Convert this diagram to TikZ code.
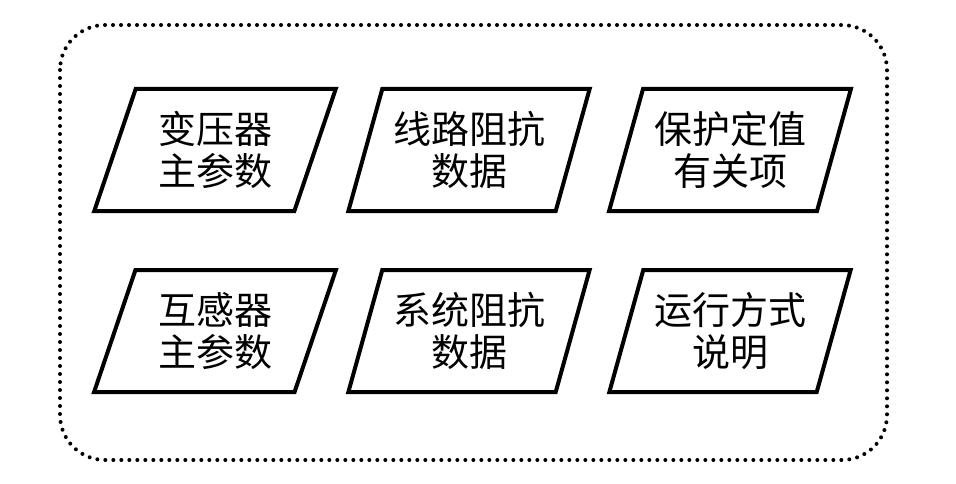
\documentclass[tikz,border=0pt]{standalone}
\usepackage{fontspec}
\setmainfont{Noto Sans CJK SC}
\usetikzlibrary{shapes.geometric}
\begin{document}
\begin{tikzpicture}[x=1pt,y=-1pt,
  databox/.style={trapezium, trapezium left angle=69, trapezium right angle=111,
    trapezium stretches=true, minimum width=242pt, minimum height=122pt,
    draw, line width=4pt, align=center, inner sep=0pt,
    font=\fontsize{38}{42}\selectfont}]
\useasboundingbox (0,0) rectangle (956,484);
\draw[line width=4pt, line cap=round, dash pattern=on 0pt off 8pt, rounded corners=45pt] (60,25) rectangle (887,460);
\node[databox] (bybq) at (215,150){变压器\\主参数};
\node[databox] (xlzk) at (469,150){线路阻抗\\数据};
\node[databox] (bhdz) at (730,150){保护定值\\有关项};
\node[databox] (hgq) at (215,331){互感器\\主参数};
\node[databox] (xtzk) at (469,331){系统阻抗\\数据};
\node[databox] (yxfs) at (730,331){运行方式\\说明};
\end{tikzpicture}
\end{document}
